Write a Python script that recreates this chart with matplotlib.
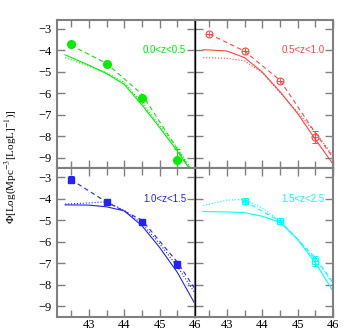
import matplotlib.pyplot as plt
import numpy as np

plt.rcParams['font.family'] = 'Liberation Serif'
plt.rcParams['mathtext.fontset'] = 'stix'

# luminosity bins (log L)
lum_pts = [42.5, 43.5, 44.5, 45.5]
lum_mod = [42.33, 43.0, 43.5, 44.0, 44.5, 45.0, 45.5, 46.0]

# ---- 0.0<z<0.5 ----
z1_pts = [-3.73, -4.66, -6.22, -9.09]
z1_err_lo = [0.0, 0.0, 0.0, 0.5]
z1_err_hi = [0.0, 0.0, 0.0, 0.5]
z1_dash_x = [42.5, 43.5, 44.5, 45.5, 45.85]
z1_dash = [-3.78, -4.62, -6.05, -8.6, -9.5]
z1_solid = [-4.22, -4.7, -5.09, -5.59, -6.55, -7.6, -8.69, -9.9]
z1_dot = [-4.35, -4.75, -5.05, -5.5, -6.45, -7.5, -8.55, -9.8]

# ---- 0.5<z<1.0 ----
z2_pts = [-3.23, -4.04, -5.42, -8.02]
z2_err_lo = [0.0, 0.0, 0.0, 0.28]
z2_err_hi = [0.0, 0.0, 0.0, 0.26]
z2_dash_x = [42.5, 43.5, 44.5, 45.5, 46.0]
z2_dash = [-3.25, -4.05, -5.4, -7.85, -9.0]
z2_solid = [-3.98, -4.04, -4.35, -5.02, -5.93, -6.95, -8.15, -9.3]
z2_dot = [-4.35, -4.38, -4.5, -5.05, -5.97, -6.9, -7.83, -8.9]

# ---- 1.0<z<1.5 ----
z3_pts = [-3.12, -4.16, -5.09, -7.05]
z3_err_lo = [0.17, 0.05, 0.05, 0.18]
z3_err_hi = [0.18, 0.05, 0.05, 0.16]
z3_dash_x = [42.5, 43.5, 44.5, 45.5, 46.0]
z3_dash = [-3.12, -4.16, -5.0, -6.95, -8.2]
z3_solid = [-4.29, -4.3, -4.38, -4.57, -5.26, -6.27, -7.43, -8.9]
z3_dot = [-4.25, -4.2, -4.15, -4.55, -5.15, -6.1, -7.15, -8.4]

# ---- 1.5<z<2.5 ----
z4_pts_x = [43.5, 44.5, 45.5]
z4_pts = [-4.12, -5.02, -6.88]
z4_err_lo = [0.05, 0.05, 0.24]
z4_err_hi = [0.05, 0.05, 0.23]
z4_dash_x = [43.5, 44.5, 45.5, 46.0]
z4_dash = [-4.12, -5.05, -6.75, -7.9]
z4_solid = [-4.6, -4.62, -4.65, -4.82, -5.1, -5.9, -6.98, -8.3]
z4_dot = [-4.32, -4.07, -4.04, -4.43, -5.05, -5.9, -6.84, -7.93]

fig, axes = plt.subplots(2, 2, figsize=(3.54, 3.33), dpi=100, sharex=True, sharey=True)
plt.subplots_adjust(left=0.161, right=0.941, top=0.94, bottom=0.048, wspace=0, hspace=0)

panels = [
    (axes[0, 0], '#00ee00', lum_pts, z1_pts, z1_err_lo, z1_err_hi, z1_dash_x, z1_dash, z1_solid, z1_dot,
     '0.0<z<0.5', [dict(marker='o', ms=5.5)]),
    (axes[0, 1], '#ff4444', lum_pts, z2_pts, z2_err_lo, z2_err_hi, z2_dash_x, z2_dash, z2_solid, z2_dot,
     '0.5<z<1.0', [dict(marker='o', ms=5, mfc='none', mew=0.8), dict(marker='+', ms=5, mew=0.6)]),
    (axes[1, 0], '#2222ff', lum_pts, z3_pts, z3_err_lo, z3_err_hi, z3_dash_x, z3_dash, z3_solid, z3_dot,
     '1.0<z<1.5', [dict(marker='s', ms=4)]),
    (axes[1, 1], '#00ffff', z4_pts_x, z4_pts, z4_err_lo, z4_err_hi, z4_dash_x, z4_dash, z4_solid, z4_dot,
     '1.5<z<2.5', [dict(marker='s', ms=4, mfc='none', mew=0.8), dict(marker='+', ms=4, mew=0.6)]),
]

for ax, c, px, py, elo, ehi, dx, dy, sy, doty, lab, mks in panels:
    ax.plot(lum_mod, sy, '-', color=c, lw=0.8)
    ax.plot(lum_mod, doty, ':', color=c, lw=0.8)
    ax.plot(dx, dy, '--', color=c, lw=0.8, dashes=(4, 3))
    ax.errorbar(px, py, yerr=[elo, ehi], fmt='none', ecolor=c, elinewidth=0.7, capsize=2.5, capthick=0.7)
    for mk in mks:
        ax.plot(px, py, linestyle='none', color=c, mec=c, **mk)
    ax.text(45.75, -4.0, lab, color=c, fontsize=7, ha='right', va='center', family='Liberation Sans')

    ax.set_xlim(42.1, 46.0)
    ax.set_ylim(-9.5, -2.6)
    ax.set_xticks([43, 44, 45, 46])
    ax.set_xticks(np.arange(42.5, 46, 0.5), minor=True)
    ax.set_yticks([-3, -4, -5, -6, -7, -8, -9])
    ax.tick_params(which='both', direction='in', top=True, right=True, color='gray', width=1.0,
                   labelsize=9)
    ax.tick_params(axis='x', pad=1.5)
    ax.tick_params(axis='y', pad=4)
    ax.tick_params(which='major', length=6)
    ax.tick_params(which='minor', length=5)
    for s in ax.spines.values():
        s.set_color('gray')
        s.set_linewidth(1.5)

axes[0, 1].spines['left'].set_color('black')
axes[0, 1].spines['left'].set_linewidth(1.0)
axes[1, 1].spines['left'].set_color('black')
axes[1, 1].spines['left'].set_linewidth(1.0)

fig.text(0.028, 0.5, r'$\Phi$[Log(Mpc$^{-3}$[LogL]$^{-1}$)]', rotation=90, fontsize=8,
         ha='center', va='center')

plt.savefig('out.png', dpi=100)
plt.close()
